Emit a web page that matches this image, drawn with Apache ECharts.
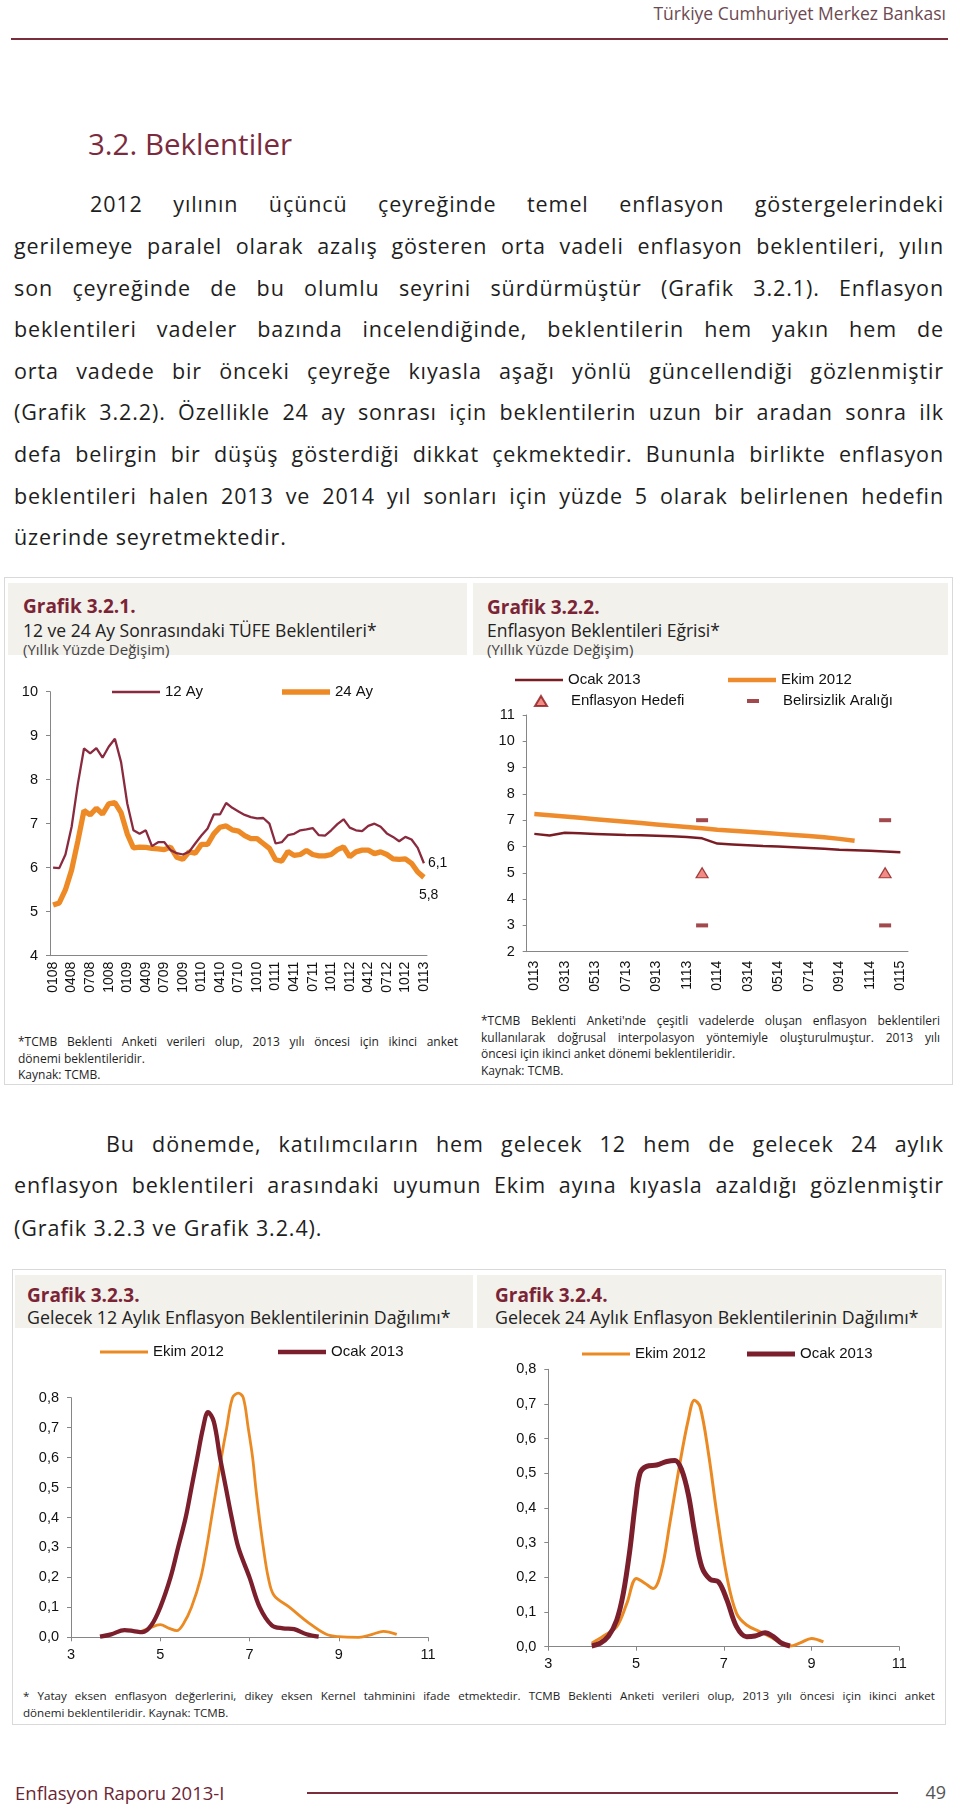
<!DOCTYPE html>
<html lang="tr">
<head>
<meta charset="utf-8">
<title>3.2. Beklentiler</title>
<script src="https://cdn.jsdelivr.net/npm/echarts@6/dist/echarts.min.js"></script>
<style>
html,body{margin:0;padding:0;background:#fff;}
body{position:relative;width:960px;height:1804px;overflow:hidden;font-family:"Open Sans",sans-serif;color:#1e1e1e;}
.t{position:absolute;white-space:nowrap;}
.jl{position:absolute;white-space:normal;text-align:justify;text-align-last:justify;}
.box{position:absolute;border:1px solid #d9d9d9;box-sizing:border-box;}
.bg{position:absolute;background:#f3f1ec;}
.hl{position:absolute;height:2px;background:#7a2d3a;}
.ch{position:absolute;}
</style>
</head>
<body>
<div class="hl" style="left:11px;top:38px;width:937px;"></div>
<div class="box" style="left:4px;top:577px;width:949px;height:508px;"></div>
<div class="bg" style="left:8px;top:583px;width:459px;height:72px;"></div>
<div class="bg" style="left:473px;top:583px;width:475px;height:72px;"></div>
<div class="box" style="left:12px;top:1269px;width:934px;height:456px;"></div>
<div class="bg" style="left:15px;top:1275px;width:458px;height:53px;"></div>
<div class="bg" style="left:477px;top:1275px;width:465px;height:53px;"></div>
<div class="hl" style="left:307px;top:1792px;width:591px;"></div>

<div id="c1" class="ch" style="left:0;top:660px;width:480px;height:350px;"></div>
<div id="c2" class="ch" style="left:480px;top:660px;width:480px;height:350px;"></div>
<div id="c3" class="ch" style="left:0;top:1335px;width:478px;height:345px;"></div>
<div id="c4" class="ch" style="left:480px;top:1335px;width:470px;height:345px;"></div>

<script>
// ---------------- DATA ----------------
// Grafik 3.2.1 (monthly, 01/2008 - 01/2013)
const months1 = ['0108','0208','0308','0408','0508','0608','0708','0808','0908','1008','1108','1208',
  '0109','0209','0309','0409','0509','0609','0709','0809','0909','1009','1109','1209',
  '0110','0210','0310','0410','0510','0610','0710','0810','0910','1010','1110','1210',
  '0111','0211','0311','0411','0511','0611','0711','0811','0911','1011','1111','1211',
  '0112','0212','0312','0412','0512','0612','0712','0812','0912','1012','1112','1212','0113'];
const ay12 = [6.0,5.99,6.3,6.93,7.9,8.71,8.6,8.72,8.5,8.75,8.93,8.4,
  7.46,6.85,6.77,6.85,6.49,6.58,6.58,6.4,6.33,6.3,6.36,6.55,
  6.73,6.89,7.21,7.21,7.47,7.36,7.28,7.2,7.15,7.12,7.13,7.0,
  6.55,6.58,6.74,6.77,6.85,6.87,6.9,6.74,6.73,6.85,6.99,7.1,
  6.91,6.85,6.83,6.95,7.0,6.93,6.78,6.7,6.6,6.7,6.64,6.45,6.1];
const ay24 = [5.15,5.2,5.5,5.95,6.6,7.3,7.2,7.35,7.22,7.45,7.48,7.25,
  6.77,6.45,6.47,6.46,6.44,6.43,6.41,6.47,6.24,6.19,6.36,6.33,
  6.53,6.53,6.77,6.92,6.95,6.86,6.83,6.73,6.66,6.66,6.55,6.44,
  6.18,6.15,6.37,6.28,6.3,6.39,6.3,6.27,6.27,6.3,6.41,6.47,
  6.25,6.36,6.4,6.4,6.32,6.36,6.3,6.2,6.19,6.2,6.1,5.9,5.78];

// Grafik 3.2.2 (01/2013 - 01/2015)
const months2 = ['0113','0213','0313','0413','0513','0613','0713','0813','0913','1013','1113','1213',
  '0114','0214','0314','0414','0514','0614','0714','0814','0914','1014','1114','1214','0115'];
const ocak2013Egri = [6.48,6.42,6.52,6.5,6.48,6.46,6.44,6.43,6.41,6.39,6.36,6.31,
  6.11,6.08,6.05,6.02,6.0,5.97,5.94,5.91,5.88,5.86,5.84,5.81,5.78];
const ekim2012Egri = [7.24,7.19,7.14,7.09,7.04,6.99,6.94,6.89,6.84,6.79,6.74,6.69,
  6.64,6.6,6.56,6.52,6.48,6.44,6.4,6.35,6.29,6.22,null,null,null];
const hedefAy = ['1213','1214'];
const hedef = [5, 5];
const belirsizlikUst = [7, 7];
const belirsizlikAlt = [3, 3];

// Grafik 3.2.3 (12 ay, kernel)
const g3Ekim = [[4.5,0.015],[4.75,0.03],[5.0,0.042],[5.2,0.03],[5.37,0.022],[5.52,0.045],[5.7,0.1],
  [5.91,0.2],[6.04,0.3],[6.15,0.4],[6.26,0.5],[6.37,0.6],[6.49,0.7],[6.62,0.8],[6.75,0.815],[6.86,0.8],
  [6.97,0.7],[7.07,0.6],[7.14,0.5],[7.22,0.4],[7.31,0.3],[7.42,0.2],[7.55,0.14],[7.9,0.1],[8.31,0.05],
  [8.72,0.01],[9.0,0.002],[9.45,0.0],[9.75,0.01],[10.0,0.02],[10.3,0.01]];
const g3Ocak = [[3.65,0.002],[3.9,0.01],[4.2,0.024],[4.4,0.021],[4.6,0.017],[4.8,0.04],[5.0,0.1],
  [5.23,0.2],[5.4,0.3],[5.57,0.4],[5.7,0.5],[5.83,0.6],[5.96,0.7],[6.07,0.752],[6.2,0.72],[6.34,0.6],
  [6.47,0.5],[6.6,0.4],[6.75,0.3],[7.0,0.2],[7.23,0.1],[7.5,0.04],[7.75,0.03],[8.0,0.027],[8.28,0.01],[8.55,0.002]];

// Grafik 3.2.4 (24 ay, kernel)
const g4Ekim = [[3.99,0.01],[4.25,0.03],[4.56,0.058],[4.79,0.125],[5.01,0.197],[5.2,0.183],[5.39,0.168],
  [5.58,0.22],[5.77,0.356],[6.0,0.529],[6.19,0.654],[6.33,0.711],[6.46,0.692],[6.65,0.558],[6.84,0.385],
  [7.07,0.202],[7.29,0.096],[7.52,0.0625],[7.83,0.043],[8.05,0.029],[8.32,0.01],[8.51,0.002],[8.74,0.011],
  [9.0,0.024],[9.27,0.014]];
const g4Ocak = [[3.99,0.002],[4.18,0.01],[4.37,0.03],[4.56,0.077],[4.71,0.154],[4.86,0.28],[4.98,0.41],
  [5.09,0.5],[5.24,0.52],[5.47,0.524],[5.7,0.534],[5.89,0.537],[6.04,0.51],[6.19,0.44],[6.34,0.327],
  [6.5,0.23],[6.69,0.194],[6.88,0.187],[7.07,0.135],[7.29,0.058],[7.52,0.029],[7.71,0.031],[7.94,0.04],
  [8.13,0.029],[8.32,0.01],[8.51,0.002]];

// ---------------- TEXT ----------------
const para1 = [
  'gerilemeye paralel olarak azalış gösteren orta vadeli enflasyon beklentileri, yılın',
  'son çeyreğinde de bu olumlu seyrini sürdürmüştür (Grafik 3.2.1). Enflasyon',
  'beklentileri vadeler bazında incelendiğinde, beklentilerin hem yakın hem de',
  'orta vadede bir önceki çeyreğe kıyasla aşağı yönlü güncellendiği gözlenmiştir',
  '(Grafik 3.2.2). Özellikle 24 ay sonrası için beklentilerin uzun bir aradan sonra ilk',
  'defa belirgin bir düşüş gösterdiği dikkat çekmektedir. Bununla birlikte enflasyon',
  'beklentileri halen 2013 ve 2014 yıl sonları için yüzde 5 olarak belirlenen hedefin'
];

function T(txt, x, cy, size, o) {
  o = o || {};
  const d = document.createElement('div');
  d.textContent = txt;
  const lh = Math.round(size * 1.35);
  d.className = o.w ? 'jl' : 't';
  let css = 'top:' + (cy - lh / 2) + 'px;font-size:' + size + 'px;line-height:' + lh + 'px;';
  if (o.right !== undefined) css += 'right:' + (960 - o.right) + 'px;';
  else css += 'left:' + x + 'px;';
  if (o.w) css += 'width:' + o.w + 'px;';
  if (o.color) css += 'color:' + o.color + ';';
  if (o.bold) css += 'font-weight:700;';
  if (o.ls) css += 'letter-spacing:' + o.ls + 'px;';
  d.style.cssText = css;
  document.body.appendChild(d);
}
const MAROON_T = '#7b2b3d';
T('Türkiye Cumhuriyet Merkez Bankası', 0, 13, 17.5, {right: 946, color: '#6d4a52'});
T('3.2. Beklentiler', 88, 144, 29.5, {color: MAROON_T});
const PS = 21.5, PL = 0.9;
T('2012 yılının üçüncü çeyreğinde temel enflasyon göstergelerindeki', 90, 203, PS, {w: 854, ls: PL});
const p1y = [245, 287, 328, 370, 411, 453, 495];
para1.forEach((s, i) => T(s, 14, p1y[i], PS, {w: 930, ls: PL}));
T('üzerinde seyretmektedir.', 14, 536, PS, {ls: PL});

T('Grafik 3.2.1.', 23, 606, 19, {bold: true, color: '#7a2436'});
T('12 ve 24 Ay Sonrasındaki TÜFE Beklentileri*', 23, 630, 17.5, {color: '#222'});
T('(Yıllık Yüzde Değişim)', 23, 649, 15, {color: '#444'});
T('Grafik 3.2.2.', 487, 607, 19, {bold: true, color: '#7a2436'});
T('Enflasyon Beklentileri Eğrisi*', 487, 630, 17.5, {color: '#222'});
T('(Yıllık Yüzde Değişim)', 487, 649, 15, {color: '#444'});

const NS = 12;
T('*TCMB Beklenti Anketi verileri olup, 2013 yılı öncesi için ikinci anket', 18, 1042, NS, {w: 440});
T('dönemi beklentileridir.', 18, 1059, NS);
T('Kaynak: TCMB.', 18, 1075, NS);
T('*TCMB Beklenti Anketi\'nde çeşitli vadelerde oluşan enflasyon beklentileri', 481, 1021, NS, {w: 459});
T('kullanılarak doğrusal interpolasyon yöntemiyle oluşturulmuştur. 2013 yılı', 481, 1038, NS, {w: 459});
T('öncesi için ikinci anket dönemi beklentileridir.', 481, 1054, NS);
T('Kaynak: TCMB.', 481, 1071, NS);

T('Bu dönemde, katılımcıların hem gelecek 12 hem de gelecek 24 aylık', 106, 1143, PS, {w: 838, ls: PL});
T('enflasyon beklentileri arasındaki uyumun Ekim ayına kıyasla azaldığı gözlenmiştir', 14, 1184, PS, {w: 930, ls: PL});
T('(Grafik 3.2.3 ve Grafik 3.2.4).', 14, 1227, PS, {ls: PL});

T('Grafik 3.2.3.', 27, 1295, 19, {bold: true, color: '#7a2436'});
T('Gelecek 12 Aylık Enflasyon Beklentilerinin Dağılımı*', 27, 1317, 17.8, {color: '#222'});
T('Grafik 3.2.4.', 495, 1295, 19, {bold: true, color: '#7a2436'});
T('Gelecek 24 Aylık Enflasyon Beklentilerinin Dağılımı*', 495, 1317, 17.8, {color: '#222'});
T('* Yatay eksen enflasyon değerlerini, dikey eksen Kernel tahminini ifade etmektedir. TCMB Beklenti Anketi verileri olup, 2013 yılı öncesi için ikinci anket', 23, 1696, 11.6, {w: 912});
T('dönemi beklentileridir. Kaynak: TCMB.', 23, 1713, 11.6);

T('Enflasyon Raporu  2013-I', 15, 1792, 18.5, {color: '#6b2636'});
T('49', 0, 1792, 18, {right: 946, color: '#555'});

// ---------------- CHARTS ----------------
const AX = '#868686', LBL = '#111', FF = '"Liberation Sans", Arial, sans-serif';
const fmtC = v => String(v).replace('.', ',');
function legendAt(name, left, cy, o) {
  o = o || {};
  const lg = {
    data: [name], left: left, top: cy - 9, itemWidth: o.iw || 48, itemHeight: o.ih || 14,
    itemGap: 0, padding: 0, selectedMode: false,
    textStyle: {fontFamily: FF, fontSize: 15, color: LBL, lineHeight: 18, padding: o.tp || 0}
  };
  if (o.icon) lg.icon = o.icon;
  return lg;
}
function valAxisY(min, max, interval, fmt) {
  return {
    type: 'value', min: min, max: max, interval: interval, splitLine: {show: false},
    axisLine: {show: true, lineStyle: {color: AX}},
    axisTick: {show: true, length: 4, lineStyle: {color: AX}},
    axisLabel: {fontSize: 14.5, fontFamily: FF, color: LBL, margin: 12, formatter: fmt}
  };
}

// Chart 1
const MAR1 = '#8a2a3e', OR1 = '#ee8a25';
echarts.init(document.getElementById('c1')).setOption({
  animation: false,
  legend: [legendAt('12 Ay', 112, 32, {icon: 'rect', ih: 2.5}), legendAt('24 Ay', 282, 32, {icon: 'rect', ih: 5.3})],
  grid: {left: 50, top: 31.7, width: 377, height: 264},
  xAxis: {
    type: 'category', data: months1, boundaryGap: true,
    axisLine: {lineStyle: {color: AX}},
    axisTick: {interval: 2, alignWithLabel: true, length: 4, lineStyle: {color: AX}},
    axisLabel: {interval: 2, rotate: 90, fontSize: 14, fontFamily: FF, color: LBL, margin: 6}
  },
  yAxis: valAxisY(4, 10, 1),
  series: [
    {name: '24 Ay', type: 'line', data: ay24, symbol: 'none', z: 2,
      lineStyle: {width: 5.3, color: OR1}, itemStyle: {color: OR1},
      endLabel: {show: true, formatter: p => fmtC(Number(p.value).toFixed(1)), distance: 5, offset: [-10, 18],
        fontSize: 14, fontFamily: FF, color: LBL}},
    {name: '12 Ay', type: 'line', data: ay12, symbol: 'none', z: 3,
      lineStyle: {width: 2.3, color: MAR1}, itemStyle: {color: MAR1},
      endLabel: {show: true, formatter: p => fmtC(Number(p.value).toFixed(1)), distance: 4,
        fontSize: 14, fontFamily: FF, color: LBL}}
  ]
});

// Chart 2
const MAR2 = '#7a1c24', OR2 = '#ee8c2d';
echarts.init(document.getElementById('c2')).setOption({
  animation: false,
  legend: [
    legendAt('Ocak 2013', 35, 20, {icon: 'rect', ih: 2.6}),
    legendAt('Ekim 2012', 248, 20, {icon: 'rect', ih: 4.5}),
    legendAt('Enflasyon Hedefi', 54, 41, {iw: 12, ih: 10, tp: [0, 0, 0, 19]}),
    legendAt('Belirsizlik Aralığı', 267, 41, {iw: 12, ih: 4, tp: [0, 0, 0, 19]})
  ],
  grid: {left: 46.7, top: 55, width: 381.3, height: 236.7},
  xAxis: {
    type: 'category', data: months2, boundaryGap: true,
    axisLine: {lineStyle: {color: AX}},
    axisTick: {interval: 1, length: 4, lineStyle: {color: AX}},
    axisLabel: {interval: 1, rotate: 90, fontSize: 14, fontFamily: FF, color: LBL, margin: 9}
  },
  yAxis: valAxisY(2, 11, 1),
  series: [
    {name: 'Ocak 2013', type: 'line', data: ocak2013Egri, symbol: 'none', z: 3,
      lineStyle: {width: 2.5, color: MAR2}, itemStyle: {color: MAR2}},
    {name: 'Ekim 2012', type: 'line', data: ekim2012Egri, symbol: 'none', z: 2,
      lineStyle: {width: 4.5, color: OR2}, itemStyle: {color: OR2}},
    {name: 'Enflasyon Hedefi', type: 'scatter', symbol: 'triangle', symbolSize: [12, 10], z: 5,
      data: hedefAy.map((m, i) => [m, hedef[i]]),
      itemStyle: {color: '#ee6e68', borderColor: '#8b1a1a', borderWidth: 1.2}},
    {name: 'Belirsizlik Aralığı', type: 'scatter', symbol: 'rect', symbolSize: [12, 4], z: 5,
      data: hedefAy.map((m, i) => [m, belirsizlikUst[i]]).concat(hedefAy.map((m, i) => [m, belirsizlikAlt[i]])),
      itemStyle: {color: '#8a1c1f'}}
  ]
});

// Charts 3 & 4
const MAR3 = '#7c1f2d', OR3 = '#eb8a22';
function kernelOption(grid, ekim, ocak, legL1, legL2, legCy, wE, wO) {
  return {
    animation: false,
    legend: [legendAt('Ekim 2012', legL1, legCy, {icon: 'rect', ih: wE}),
             legendAt('Ocak 2013', legL2, legCy, {icon: 'rect', ih: wO})],
    grid: grid,
    xAxis: {
      type: 'value', min: 3, max: 11, interval: 2, splitLine: {show: false},
      axisLine: {lineStyle: {color: AX}},
      axisTick: {show: true, length: 4, lineStyle: {color: AX}},
      axisLabel: {fontSize: 14.5, fontFamily: FF, color: LBL, margin: 10}
    },
    yAxis: valAxisY(0, 0.8, 0.1, v => fmtC(v.toFixed(1))),
    series: [
      {name: 'Ekim 2012', type: 'line', data: ekim, symbol: 'none', smooth: 0.35, clip: false, z: 2,
        lineStyle: {width: wE, color: OR3}, itemStyle: {color: OR3}},
      {name: 'Ocak 2013', type: 'line', data: ocak, symbol: 'none', smooth: 0.35, clip: false, z: 3,
        lineStyle: {width: wO, color: MAR3}, itemStyle: {color: MAR3}}
    ]
  };
}
echarts.init(document.getElementById('c3')).setOption(
  kernelOption({left: 71, top: 62.7, width: 357, height: 239.6}, g3Ekim, g3Ocak, 100, 278, 17, 2.8, 4.3));
echarts.init(document.getElementById('c4')).setOption(
  kernelOption({left: 68.3, top: 34.3, width: 351, height: 277.4}, g4Ekim, g4Ocak, 102, 267, 19, 3, 5));
</script>
</body>
</html>
